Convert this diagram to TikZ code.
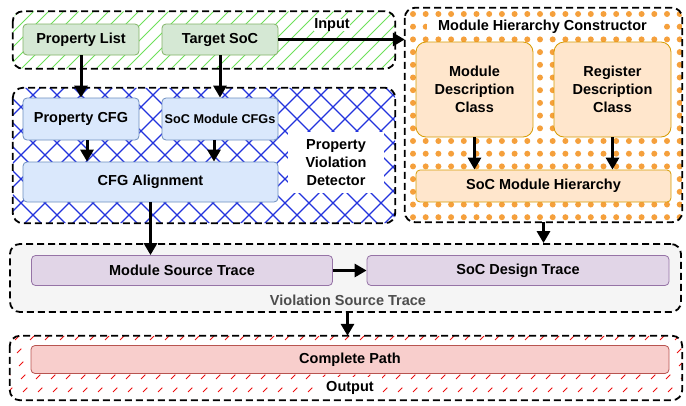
\documentclass[tikz,border=0pt]{standalone}
\usepackage{fontspec}
\setmainfont{Liberation Sans}
\usetikzlibrary{arrows.meta}
\definecolor{grnfill}{HTML}{D5E8D4}
\definecolor{grnline}{HTML}{82B366}
\definecolor{bluefill}{HTML}{DAE8FC}
\definecolor{blueline}{HTML}{6C8EBF}
\definecolor{orgfill}{HTML}{FFE6CC}
\definecolor{orgline}{HTML}{D79B00}
\definecolor{purfill}{HTML}{E1D5E7}
\definecolor{purline}{HTML}{9673A6}
\definecolor{redfill}{HTML}{F8CECC}
\definecolor{redline}{HTML}{B85450}
\definecolor{greyfill}{HTML}{F5F5F5}
\definecolor{greytext}{HTML}{4D4D4D}
\definecolor{inhatch}{HTML}{6EE05A}
\definecolor{pvdhatch}{HTML}{2233DD}
\definecolor{mhcdots}{HTML}{F5A03C}
\definecolor{outhatch}{HTML}{EE1111}
\tikzset{
  grp/.style={draw=black, line width=1.8pt, dash pattern=on 7pt off 4pt, rounded corners=10pt, inner sep=0pt},
  grparea/.style={inner sep=0pt},
  blk/.style={draw, line width=0.8pt, rounded corners=4pt, inner sep=0pt, align=center, font=\bfseries\fontsize{14.5}{18}\selectfont},
  lbl/.style={fill=white, inner sep=0pt, align=center, font=\bfseries\fontsize{14.5}{18}\selectfont},
  arr/.style={line width=3pt, -{Triangle[length=12pt,width=13pt]}}
}
\begin{document}
\begin{tikzpicture}[x=1pt,y=-1pt]
\useasboundingbox (0,0) rectangle (686,405);
% group areas
\node[grparea, minimum width=382pt, minimum height=57pt] (input) at (204,40) {};
\node[grparea, minimum width=382pt, minimum height=135pt] (pvd) at (204,155.5) {};
\node[grparea, minimum width=277pt, minimum height=214pt] (mhc) at (543.5,115) {};
\node[grp, fill=greyfill, minimum width=671pt, minimum height=68pt] (vst) at (345.5,278) {};
\node[grparea, minimum width=672pt, minimum height=64pt] (out) at (346,368) {};
% fills of the groups
\begin{scope}
\clip[rounded corners=10pt] (input.north west) rectangle (input.south east);
\foreach \i in {0,15,...,450}
  \draw[inhatch, line width=1pt] (\i-60,75) -- ++(70,-70);
\end{scope}
\begin{scope}
\clip[rounded corners=10pt] (pvd.north west) rectangle (pvd.south east);
\foreach \i in {0,24,...,600}{
  \draw[pvdhatch, line width=1.1pt] (\i-150,230) -- ++(150,-150);
  \draw[pvdhatch, line width=1.1pt] (\i-150,80) -- ++(150,150);}
\end{scope}
\begin{scope}
\clip[rounded corners=10pt] (mhc.north west) rectangle (mhc.south east);
\foreach \x in {0,...,21}
  \foreach \y in {0,...,16}
    \fill[mhcdots] (413+12.7*\x,14+12.7*\y) circle (3pt);
\end{scope}
\begin{scope}
\clip[rounded corners=10pt] (out.north west) rectangle (out.south east);
\foreach \i in {0,15,...,780}
  \draw[outhatch, line width=1pt, dash pattern=on 6pt off 12.4pt] (\i-80,405) -- ++(80,-80);
\end{scope}
\foreach \g in {input,pvd,mhc,out}
  \draw[grp] (\g.north west) rectangle (\g.south east);
% labels
\node[lbl] (inlbl) at (332,25) {Input};
\node[lbl, minimum width=96pt, minimum height=61pt] (pvdlbl) at (336,162.5) {Property\\Violation\\Detector};
\node[lbl, minimum width=231pt, minimum height=18pt] (mhclbl) at (542.5,27) {Module Hierarchy Constructor};
\node[text=greytext, font=\bfseries\fontsize{14.5}{18}\selectfont] (vstlbl) at (348,300) {Violation Source Trace};
\node[lbl, minimum width=64pt, minimum height=21pt] (outlbl) at (350,387.5) {Output};
% blocks
\node[blk, draw=grnline, fill=grnfill, minimum width=116pt, minimum height=31pt] (plist) at (81,39.5) {Property List};
\node[blk, draw=grnline, fill=grnfill, minimum width=116pt, minimum height=31pt] (tsoc) at (220,39.5) {Target SoC};
\node[blk, draw=blueline, fill=bluefill, minimum width=116pt, minimum height=42pt] (pcfg) at (81,119) {Property CFG};
\node[blk, draw=blueline, fill=bluefill, minimum width=116pt, minimum height=42pt, font=\bfseries\fontsize{12.7}{15}\selectfont] (scfg) at (220,119) {SoC Module CFGs};
\node[blk, draw=blueline, fill=bluefill, minimum width=255pt, minimum height=40pt] (align) at (150.5,182) {CFG Alignment};
\node[blk, draw=orgline, fill=orgfill, minimum width=117pt, minimum height=95pt, rounded corners=10pt] (mdc) at (474.5,89.5) {Module\\Description\\Class};
\node[blk, draw=orgline, fill=orgfill, minimum width=117pt, minimum height=95pt, rounded corners=10pt] (rdc) at (612.5,89.5) {Register\\Description\\Class};
\node[blk, draw=orgline, fill=orgfill, minimum width=255pt, minimum height=32pt] (smh) at (543.5,186) {SoC Module Hierarchy};
\node[blk, draw=purline, fill=purfill, minimum width=301pt, minimum height=30pt] (mst) at (182,270.5) {Module Source Trace};
\node[blk, draw=purline, fill=purfill, minimum width=302pt, minimum height=30pt] (sdt) at (518,270.5) {SoC Design Trace};
\node[blk, draw=redline, fill=redfill, minimum width=638pt, minimum height=28pt] (cpath) at (350,359.5) {Complete Path};
% arrows
\draw[arr] (tsoc.east) -- (tsoc.east -| mhc.west);
\draw[arr] (plist.south) -- (pcfg.north);
\draw[arr] (tsoc.south) -- (scfg.north);
\draw[arr] ([xshift=6pt]pcfg.south) -- ([xshift=6pt]pcfg.south |- align.north);
\draw[arr] ([xshift=-6pt]scfg.south) -- ([xshift=-6pt]scfg.south |- align.north);
\draw[arr] (align.south) -- (align.south |- mst.north);
\draw[arr] (mdc.south) -- (mdc.south |- smh.north);
\draw[arr] (rdc.south) -- (rdc.south |- smh.north);
\draw[arr] (mhc.south) -- (mhc.south |- vst.north);
\draw[arr] (mst.east) -- (sdt.west);
\draw[arr] ([xshift=2pt]vst.south) -- ([xshift=2pt]vst.south |- out.north);
\end{tikzpicture}
\end{document}
